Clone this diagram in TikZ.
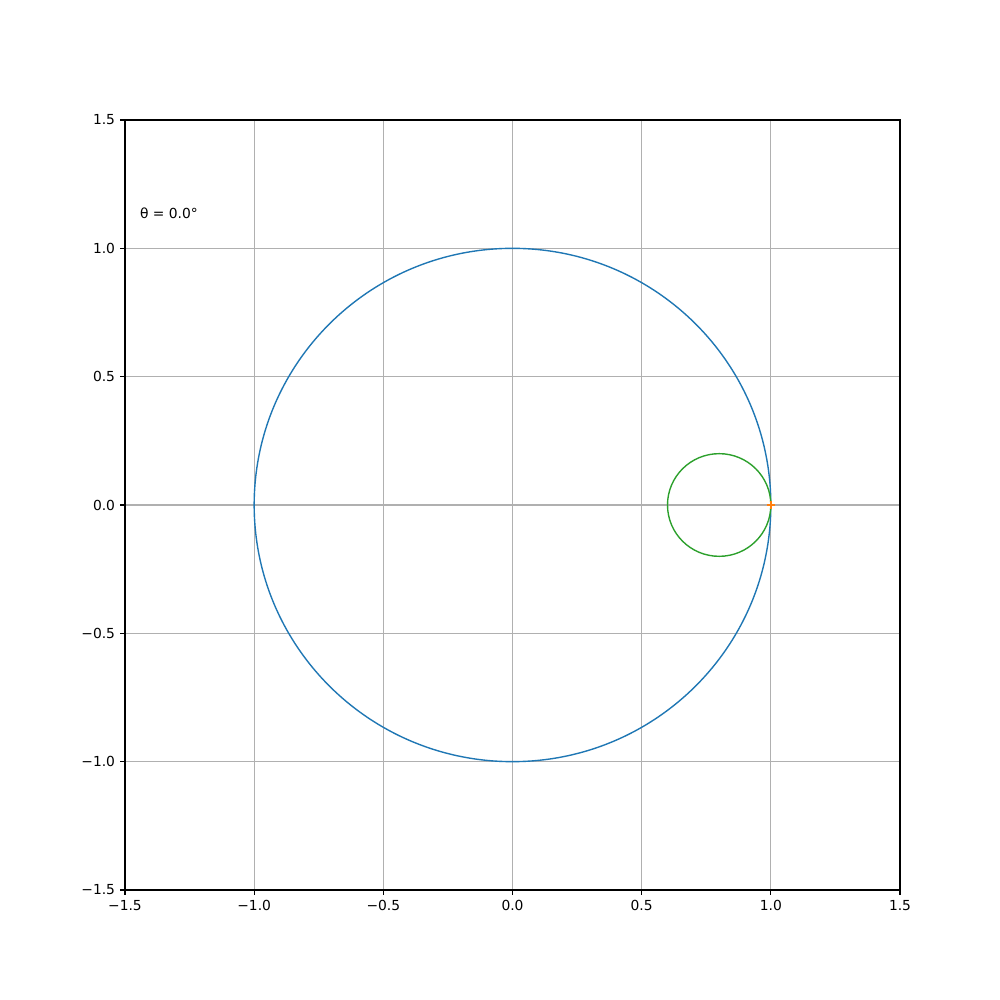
\documentclass[tikz,border=0pt]{standalone}
\usepackage{fontspec}
\setmainfont{DejaVu Sans}
\usetikzlibrary{positioning}
\definecolor{CBlue}{HTML}{1F77B4}
\definecolor{COrange}{HTML}{FF7F0E}
\definecolor{CGreen}{HTML}{2CA02C}
\definecolor{CGrid}{HTML}{B0B0B0}

\tikzset{
  gridline/.style={draw=CGrid, line width=0.8pt},
  spine/.style={draw=black, line width=0.8pt},
  tickmark/.style={draw=black, line width=0.8pt},
  ticklabel/.style={font=\fontsize{10}{12}\selectfont, inner sep=0pt},
  curve/.style={line width=1pt}
}

\begin{document}
\begin{tikzpicture}
    % Page
    \useasboundingbox[fill=white] (0,0) rectangle (25.4,25.4);

    \begin{scope}[shift={(13.0175cm,12.573cm)}, x=6.5617cm, y=6.519cm]
    % Grid
    \foreach \v in {-1,-0.5,0,0.5,1} {
        \draw[gridline] (\v,-1.5) -- (\v,1.5);
        \draw[gridline] (-1.5,\v) -- (1.5,\v);
    }

    % Ticks and labels
    \foreach \v/\t [count=\i] in {-1.5/−1.5,-1/−1.0,-0.5/−0.5,0/0.0,0.5/0.5,1/1.0,1.5/1.5} {
        \draw[tickmark] (\v,-1.5) -- ++(0,-3.5pt) coordinate (xtick\i);
        \node[ticklabel, below=3.5pt of xtick\i] (xt\i) {\t};
        \draw[tickmark] (-1.5,\v) -- ++(-3.5pt,0) coordinate (ytick\i);
        \node[ticklabel, left=3.5pt of ytick\i] (yt\i) {\t};
    }

    % Circles
    \draw[curve, CBlue] (0,0) circle[x radius=1, y radius=1];
    \draw[curve, CGreen] (0.8,0) circle[x radius=0.2, y radius=0.2];

    % Point marker
    \coordinate (pt) at (1,0);
    \draw[COrange, line width=1.5pt] ([xshift=-3pt]pt) -- ([xshift=3pt]pt)
        ([yshift=-3pt]pt) -- ([yshift=3pt]pt);

    % Frame
    \draw[spine] (-1.5,-1.5) rectangle (1.5,1.5);

    % Angle text
    \node[ticklabel, anchor=base west] (thetalabel) at (-1.443,1.116) {θ = 0.0°};
    \end{scope}
\end{tikzpicture}
\end{document}
